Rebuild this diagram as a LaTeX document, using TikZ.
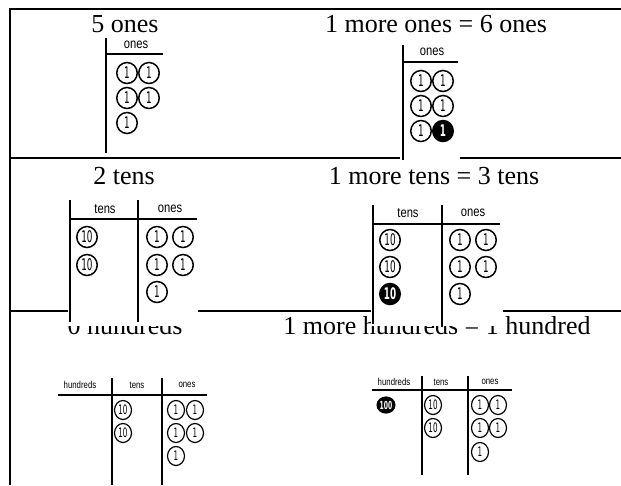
\documentclass[tikz,border=0pt]{standalone}
\usepackage{fontspec}
\setmainfont{Liberation Serif}
\newfontfamily\lblfont{Liberation Sans}
\newfontfamily\digfont{DejaVu Sans}
\usetikzlibrary{shapes.geometric}
\newcommand\narrowtxt[1]{\scalebox{0.8}[1]{#1}}
\newcommand\snarrowtxt[1]{\scalebox{0.78}[1]{#1}}
\newcommand\digtxt[1]{\scalebox{0.55}[1]{#1}}
\begin{document}
\begin{tikzpicture}[x=1pt,y=-1pt,
  frame/.style={line width=2.4pt},
  rule/.style={line width=1.7pt},
  title/.style={font=\fontsize{26}{26}\selectfont, anchor=base, inner sep=0},
  lbl/.style={font=\lblfont\fontsize{14}{14}\selectfont, inner sep=0},
  slbl/.style={font=\lblfont\fontsize{10}{10}\selectfont, inner sep=0},
  cnt/.style={ellipse, draw, line width=1.5pt, minimum width=20.5pt, minimum height=21pt, inner sep=0, font=\digfont\fontsize{16}{16}\selectfont},
  scnt/.style={ellipse, draw, line width=1.2pt, minimum width=17pt, minimum height=19pt, inner sep=0, font=\digfont\fontsize{13}{13}\selectfont},
  blk/.style={fill=black, text=white, font=\digfont\bfseries\fontsize{16}{16}\selectfont},
  sblk/.style={fill=black, draw=black, minimum width=14pt, minimum height=16pt, text=white, font=\digfont\bfseries\fontsize{11}{11}\selectfont}
]
\useasboundingbox[fill=white] (0,0) rectangle (621,485);

% frame and row rules
\draw[frame] (10,485) -- (10,9) -- (621,9);
\draw[frame] (10,158) -- (621,158);
\draw[frame] (10,311) -- (621,311);

% titles
\node[title] (t1) at (125,32) {5 ones};
\node[title] (t2) at (436,32) {1 more ones = 6 ones};
\node[title] (t3) at (124,184) {2 tens};
\node[title] (t4) at (434,184) {1 more tens = 3 tens};
\node[title] (t5) at (125,334) {0 hundreds};
\node[title] (t6) at (437,334) {1 more hundreds = 1 hundred};

% white chart panels covering rules and titles
\fill[white] (400,40) rectangle (460,163);
\fill[white] (68,196) rectangle (198,326);
\fill[white] (371,200) rectangle (503,326);

% ---- Chart A: 5 ones
\draw[rule] (106,38) -- (106,153);
\draw[rule] (106,54) -- (163,54);
\node[lbl] (la) at (136,45) {\narrowtxt{ones}};
\node[cnt] (a1) at (127,73) {\digtxt{1}};
\node[cnt] (a2) at (149,73) {\digtxt{1}};
\node[cnt] (a3) at (127,98) {\digtxt{1}};
\node[cnt] (a4) at (149,98) {\digtxt{1}};
\node[cnt] (a5) at (127,123) {\digtxt{1}};

% ---- Chart B: 6 ones
\draw[rule] (403,45) -- (403,160);
\draw[rule] (403,62) -- (458,62);
\node[lbl] (lb) at (432,52) {\narrowtxt{ones}};
\node[cnt] (b1) at (421,81) {\digtxt{1}};
\node[cnt] (b2) at (443,81) {\digtxt{1}};
\node[cnt] (b3) at (421,106) {\digtxt{1}};
\node[cnt] (b4) at (443,106) {\digtxt{1}};
\node[cnt] (b5) at (421,131) {\digtxt{1}};
\node[cnt,blk] (b6) at (443,131) {\digtxt{1}};

% ---- Chart C: 2 tens
\draw[rule] (70,200) -- (70,322);
\draw[rule] (138,200) -- (138,322);
\draw[rule] (70,219) -- (197,219);
\node[lbl] (lc1) at (105,209) {\narrowtxt{tens}};
\node[lbl] (lc2) at (170,209) {\narrowtxt{ones}};
\node[cnt] (c1) at (87,237) {\digtxt{10}};
\node[cnt] (c2) at (87,265) {\digtxt{10}};
\node[cnt] (c3) at (157,237) {\digtxt{1}};
\node[cnt] (c4) at (183,237) {\digtxt{1}};
\node[cnt] (c5) at (157,265) {\digtxt{1}};
\node[cnt] (c6) at (183,265) {\digtxt{1}};
\node[cnt] (c7) at (157,292) {\digtxt{1}};

% ---- Chart D: 3 tens
\draw[rule] (373,205) -- (373,324);
\draw[rule] (442,205) -- (442,327);
\draw[rule] (373,224) -- (500,224);
\node[lbl] (ld1) at (408,213) {\narrowtxt{tens}};
\node[lbl] (ld2) at (473,213) {\narrowtxt{ones}};
\node[cnt] (d1) at (390,240) {\digtxt{10}};
\node[cnt] (d2) at (390,267) {\digtxt{10}};
\node[cnt,blk] (d3) at (390,294) {\digtxt{10}};
\node[cnt] (d4) at (460,240) {\digtxt{1}};
\node[cnt] (d5) at (486,240) {\digtxt{1}};
\node[cnt] (d6) at (460,267) {\digtxt{1}};
\node[cnt] (d7) at (486,267) {\digtxt{1}};
\node[cnt] (d8) at (460,294) {\digtxt{1}};

% ---- Chart E: 0 hundreds
\draw[rule] (58,395) -- (207,395);
\draw[rule] (112,378) -- (112,485);
\draw[rule] (162,378) -- (162,485);
\node[slbl] (le1) at (80,385) {\snarrowtxt{hundreds}};
\node[slbl] (le2) at (137,385) {\snarrowtxt{tens}};
\node[slbl] (le3) at (187,385) {\snarrowtxt{ones}};
\node[scnt] (e1) at (123,410) {\digtxt{10}};
\node[scnt] (e2) at (123,433) {\digtxt{10}};
\node[scnt] (e3) at (176,410) {\digtxt{1}};
\node[scnt] (e4) at (195,410) {\digtxt{1}};
\node[scnt] (e5) at (176,433) {\digtxt{1}};
\node[scnt] (e6) at (195,433) {\digtxt{1}};
\node[scnt] (e7) at (176,456) {\digtxt{1}};

% ---- Chart F: 1 hundred
\draw[rule] (372,390) -- (512,390);
\draw[rule] (422,376) -- (422,475);
\draw[rule] (468,376) -- (468,475);
\node[slbl] (lf1) at (394,382) {\snarrowtxt{hundreds}};
\node[slbl] (lf2) at (441,382) {\snarrowtxt{tens}};
\node[slbl] (lf3) at (490,382) {\snarrowtxt{ones}};
\node[scnt,sblk] (f0) at (386,405) {\digtxt{100}};
\node[scnt] (f1) at (433,405) {\digtxt{10}};
\node[scnt] (f2) at (433,428) {\digtxt{10}};
\node[scnt] (f3) at (480,405) {\digtxt{1}};
\node[scnt] (f4) at (498,405) {\digtxt{1}};
\node[scnt] (f5) at (480,428) {\digtxt{1}};
\node[scnt] (f6) at (498,428) {\digtxt{1}};
\node[scnt] (f7) at (480,452) {\digtxt{1}};
\end{tikzpicture}
\end{document}
